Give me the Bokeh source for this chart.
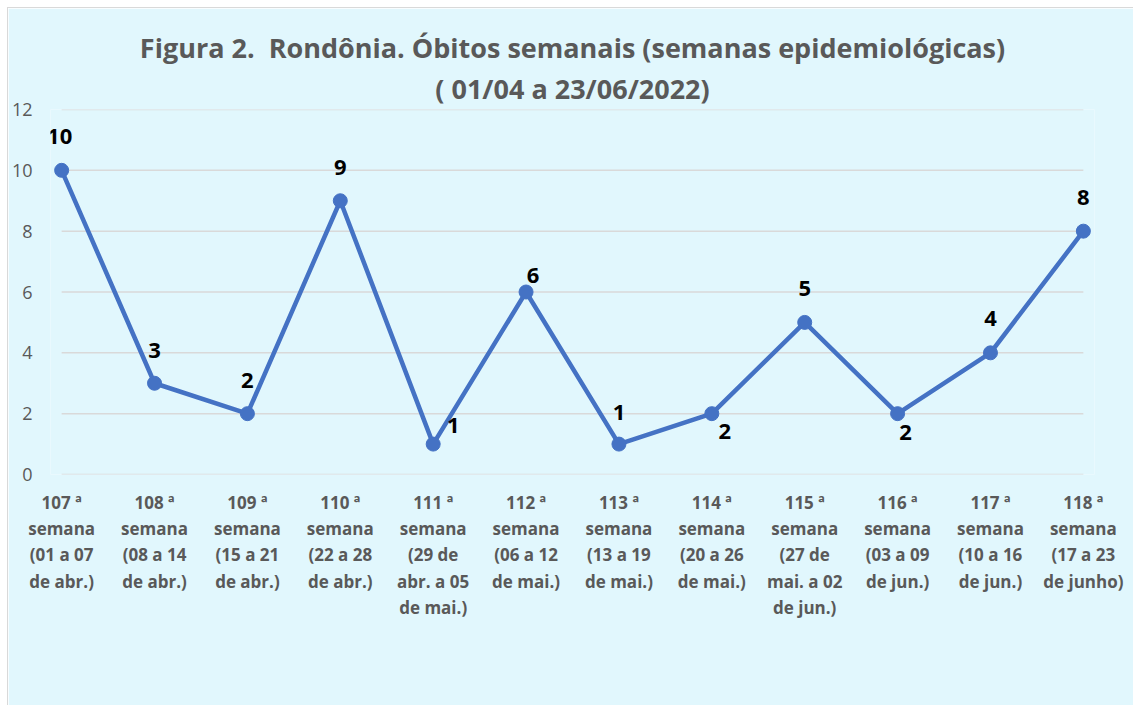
from bokeh.plotting import figure
from bokeh.models import Range1d, FixedTicker, Title, ColumnDataSource
from bokeh.core.properties import value
from bokeh.embed import file_html
from bokeh.resources import INLINE

# ---- data ----
categories = [
    "107 ª\nsemana\n(01 a 07\nde abr.)",
    "108 ª\nsemana\n(08 a 14\nde abr.)",
    "109 ª\nsemana\n(15 a 21\nde abr.)",
    "110 ª\nsemana\n(22 a 28\nde abr.)",
    "111 ª\nsemana\n(29 de\nabr. a 05\nde mai.)",
    "112 ª\nsemana\n(06 a 12\nde mai.)",
    "113 ª\nsemana\n(13 a 19\nde mai.)",
    "114 ª\nsemana\n(20 a 26\nde mai.)",
    "115 ª\nsemana\n(27 de\nmai. a 02\nde jun.)",
    "116 ª\nsemana\n(03 a 09\nde jun.)",
    "117 ª\nsemana\n(10 a 16\nde jun.)",
    "118 ª\nsemana\n(17 a 23\nde junho)",
]
obitos = [10, 3, 2, 9, 1, 6, 1, 2, 5, 2, 4, 8]
y_ticks = [0, 2, 4, 6, 8, 10, 12]
title_lines = ["Figura 2.\u00a0 Rondônia. Óbitos semanais (semanas epidemiológicas)",
               "( 01/04 a 23/06/2022)"]

# label placement (screen px offsets, style only)
lab_dx = [-2, 0, 0, 0, 20, 7, 0, 13, 0, 8, 0, 0]
lab_dy = [-34, -33, -33, -33, -19, -17, -32, 18, -34, 19, -34, -34]

FONT = "Open Sans"
GREY = "#595959"
BLUE = "#4472C4"
BG = "#E1F7FD"

idx = list(range(len(categories)))

p = figure(width=1126, height=698, output_backend="svg", toolbar_location=None,
           x_range=Range1d(-0.12, len(categories) - 1 + 0.12),
           y_range=Range1d(y_ticks[0], y_ticks[-1]),
           min_border_left=37, min_border_right=40,
           min_border_top=101, min_border_bottom=232)
p.background_fill_color = BG
p.border_fill_color = BG
p.outline_line_color = None
p.xgrid.visible = False
p.ygrid.visible = False
p.styles = {"margin-top": "7px", "margin-left": "7px",
            "border-top": "1px solid #D9D9D9", "border-left": "1px solid #D9D9D9"}

# gridlines spanning category extent
p.segment(x0=[idx[0]] * len(y_ticks), x1=[idx[-1]] * len(y_ticks), y0=y_ticks, y1=y_ticks,
          line_color="#D9D9D9", line_width=1.5)

# y axis
p.yaxis.ticker = FixedTicker(ticks=y_ticks)
p.yaxis.axis_line_color = None
p.yaxis.major_tick_line_color = None
p.yaxis.minor_tick_line_color = None
p.yaxis.major_label_standoff = 12
p.yaxis.major_label_text_font = FONT
p.yaxis.major_label_text_font_size = "18px"
p.yaxis.major_label_text_color = GREY

# x axis
p.xaxis.ticker = FixedTicker(ticks=idx)
p.xaxis.major_label_overrides = {i: c for i, c in zip(idx, categories)}
p.xaxis.axis_line_color = None
p.xaxis.major_tick_line_color = None
p.xaxis.minor_tick_line_color = None
p.xaxis.major_label_standoff = 10
p.xaxis.major_label_text_font = FONT
p.xaxis.major_label_text_font_size = "17px"
p.xaxis.major_label_text_font_style = "bold"
p.xaxis.major_label_text_color = GREY
p.xaxis.major_label_text_line_height = 1.15

src = ColumnDataSource(dict(x=idx, y=obitos, t=[str(v) for v in obitos], dx=lab_dx, dy=lab_dy))
p.line("x", "y", source=src, line_color=BLUE, line_width=4.5)
p.scatter("x", "y", source=src, size=14, fill_color=BLUE, line_color=BLUE)
p.text("x", "y", text="t", source=src, x_offset="dx", y_offset="dy",
       text_font=value(FONT), text_font_style="bold", text_font_size="22px",
       text_color="black", text_align="center", text_baseline="middle")

# titles (added bottom line first so it sits next to the frame)
for txt, so in zip(reversed(title_lines), [5, 0]):
    p.add_layout(Title(text=txt, align="center", text_font=FONT, text_font_style="bold",
                       text_font_size="27px", text_color=GREY, standoff=so), "above")

open("out.html", "w").write(file_html(p, INLINE))
